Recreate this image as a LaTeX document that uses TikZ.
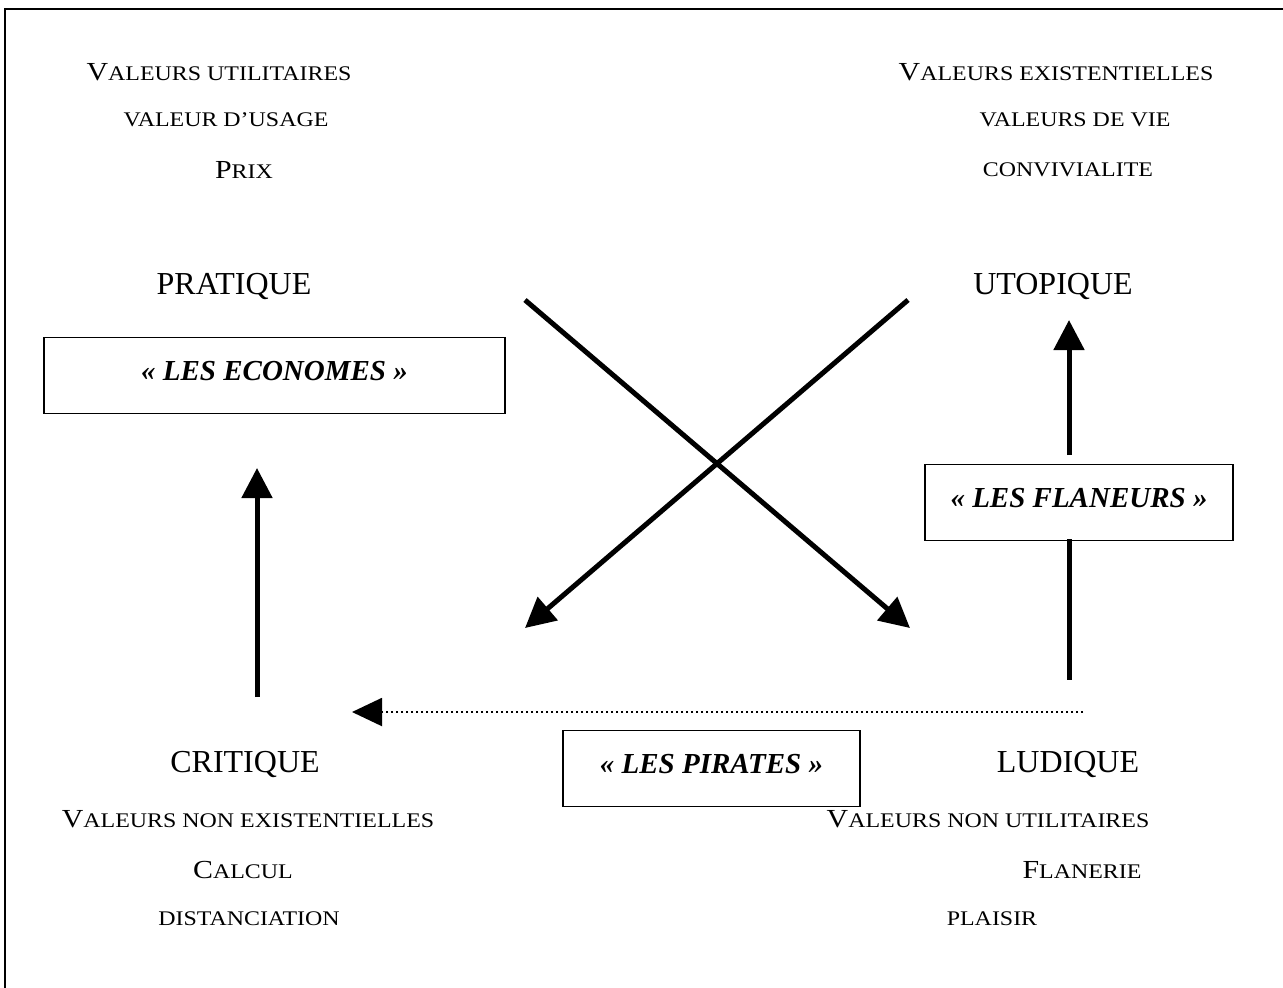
\documentclass[tikz,border=0pt]{standalone}
\usepackage{fontspec}
\setmainfont{Liberation Serif}
\newfontfamily\widefont[FakeStretch=1.15]{Liberation Serif}
\usetikzlibrary{arrows.meta}
\newcommand{\petcap}[2]{{\widefont\fontsize{13}{15}\selectfont #1\fontsize{10.4}{12}\selectfont #2}}
\newcommand{\petit}[1]{{\widefont\fontsize{10.4}{12}\selectfont #1}}
\newcommand{\gros}[1]{{\fontsize{16}{18}\selectfont #1}}

\begin{document}
\begin{tikzpicture}[x=0.5pt,y=-0.5pt,
  txt/.style={inner sep=0pt},
  groupe/.style={draw, line width=0.8pt, inner sep=0pt, minimum height=38pt,
    text height=10pt, text depth=5pt,
    font=\fontsize{14.5}{16}\selectfont\bfseries\itshape},
  fleche/.style={line width=2.5pt, -{Triangle[length=15pt,width=15pt]}},
  trait/.style={line width=2.5pt}]
\useasboundingbox (0,0) rectangle (1283,987);
\draw[line width=1pt] (5,9) rectangle (1300,1000);
% valeurs du haut
\node[txt] (vutil) at (219,72){\petcap{V}{ALEURS UTILITAIRES}};
\node[txt] (vusage) at (226,120){\petit{VALEUR D’USAGE}};
\node[txt] (prix) at (244,170){\petcap{P}{RIX}};
\node[txt] (vexist) at (1056,72){\petcap{V}{ALEURS EXISTENTIELLES}};
\node[txt] (vvie) at (1075,120){\petit{VALEURS DE VIE}};
\node[txt] (convi) at (1068,170){\petit{CONVIVIALITE}};
% les quatre poles
\node[txt] (pratique) at (234,286){\gros{PRATIQUE}};
\node[txt] (utopique) at (1053,286){\gros{UTOPIQUE}};
\node[txt] (critique) at (245,764){\gros{CRITIQUE}};
\node[txt] (ludique) at (1068,764){\gros{LUDIQUE}};
% les groupes
\node[groupe, minimum width=230.5pt] (economes) at (274.5,375.5){« LES ECONOMES »};
\node[groupe, minimum width=154pt] (flaneurs) at (1079,502.5){« LES FLANEURS »};
\node[groupe, minimum width=148.5pt] (pirates) at (711.5,768.5){« LES PIRATES »};
% valeurs du bas
\node[txt] (vnexist) at (248,819){\petcap{V}{ALEURS NON EXISTENTIELLES}};
\node[txt] (calcul) at (243,870){\petcap{C}{ALCUL}};
\node[txt] (distance) at (249,919){\petit{DISTANCIATION}};
\node[txt] (vnutil) at (988,819){\petcap{V}{ALEURS NON UTILITAIRES}};
\node[txt] (flanerie) at (1082,870){\petcap{F}{LANERIE}};
\node[txt] (plaisir) at (992,919){\petit{PLAISIR}};
% fleches
\coordinate (crit-haut) at (257,697);
\coordinate (econ-bas) at (257,468);
\coordinate (flan-haut) at (1069,455);
\coordinate (utop-bas) at (1069,320);
\coordinate (flan-bas) at (1069,539);
\coordinate (lud-haut) at (1069,680);
\coordinate (x-hg) at (525,300);
\coordinate (x-hd) at (908,300);
\coordinate (x-bg) at (525,628);
\coordinate (x-bd) at (910,628);
\coordinate (pir-dep) at (1083,712);
\coordinate (pir-arr) at (352,712);
\draw[fleche](crit-haut) -- (econ-bas);
\draw[fleche](flan-haut) -- (utop-bas);
\draw[trait](flan-bas) -- (lud-haut);
\draw[fleche](x-hg) -- (x-bd);
\draw[fleche](x-hd) -- (x-bg);
\draw[line width=1pt, dash pattern=on 1pt off 1.5pt, -{Triangle[length=15pt,width=14pt]}](pir-dep) -- (pir-arr);
\end{tikzpicture}
\end{document}
